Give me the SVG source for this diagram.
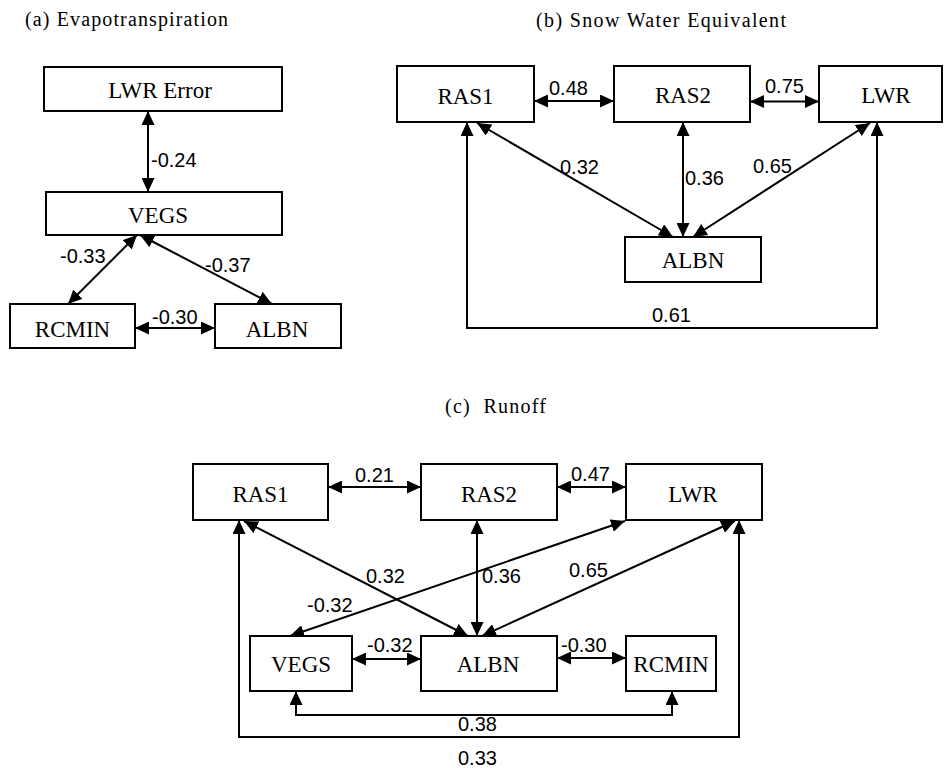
<svg xmlns="http://www.w3.org/2000/svg" width="944" height="768" viewBox="0 0 944 768">
<style>
.box{fill:#fff;stroke:#000;stroke-width:2}
.nl{font-family:"Liberation Serif","Times New Roman",serif;font-size:23px;text-anchor:middle;fill:#000}
.tt{font-family:"Liberation Serif","Times New Roman",serif;font-size:20px;fill:#000}
.el{font-family:"Liberation Sans",Arial,sans-serif;font-size:20px;fill:#000}
.c{fill:none;stroke:#000;stroke-width:2;marker-start:url(#ah);marker-end:url(#ah)}
</style>
<defs>
<marker id="ah" viewBox="0 0 14 13" refX="14" refY="6.5" markerWidth="14" markerHeight="13" markerUnits="userSpaceOnUse" orient="auto-start-reverse">
<path d="M0,0 L14,6.5 L0,13 Z" fill="#000"/>
</marker>
</defs>
<rect width="944" height="768" fill="#fff"/>
<g id="titles">
<text class="tt" x="25" y="26" textLength="203" lengthAdjust="spacing">(a) Evapotranspiration</text>
<text class="tt" x="536" y="27" textLength="250" lengthAdjust="spacing">(b) Snow Water Equivalent</text>
<text class="tt" x="445" y="413" textLength="101" lengthAdjust="spacing" xml:space="preserve">(c)  Runoff</text>
</g>
<g id="connectors">
<line class="c" x1="148" y1="111" x2="148" y2="192"/>
<line class="c" x1="137" y1="235" x2="68" y2="304"/>
<line class="c" x1="140" y1="235" x2="272" y2="304"/>
<line class="c" x1="135" y1="328" x2="215" y2="328"/>
<line class="c" x1="534" y1="101" x2="614" y2="101"/>
<line class="c" x1="750" y1="101.5" x2="819" y2="101.5"/>
<line class="c" x1="683" y1="122" x2="683" y2="237"/>
<line class="c" x1="477" y1="123" x2="673" y2="237"/>
<line class="c" x1="870" y1="123" x2="693" y2="237"/>
<polyline class="c" points="467,122 467,328 877,328 877,122"/>
<line class="c" x1="328" y1="487" x2="421" y2="487"/>
<line class="c" x1="557" y1="487" x2="626" y2="487"/>
<line class="c" x1="477" y1="520" x2="477" y2="636"/>
<line class="c" x1="244" y1="521" x2="468" y2="636"/>
<line class="c" x1="735" y1="521" x2="482" y2="636"/>
<line class="c" x1="625" y1="521" x2="290" y2="636"/>
<line class="c" x1="352" y1="659" x2="421" y2="659"/>
<line class="c" x1="557" y1="658" x2="626" y2="658"/>
<polyline class="c" points="296,691 296,715 672,715 672,691"/>
<polyline class="c" points="239,520 239,737 739,737 739,520"/>
</g>
<g id="edge-labels">
<text class="el" x="151" y="167">-0.24</text>
<text class="el" x="60" y="263">-0.33</text>
<text class="el" x="205" y="272">-0.37</text>
<text class="el" x="152" y="324">-0.30</text>
<text class="el" x="549" y="95">0.48</text>
<text class="el" x="765" y="93">0.75</text>
<text class="el" x="560" y="174">0.32</text>
<text class="el" x="685" y="185">0.36</text>
<text class="el" x="753" y="173">0.65</text>
<text class="el" x="652" y="322">0.61</text>
<text class="el" x="355" y="482">0.21</text>
<text class="el" x="571" y="481">0.47</text>
<text class="el" x="366" y="583">0.32</text>
<text class="el" x="482" y="583">0.36</text>
<text class="el" x="569" y="577">0.65</text>
<text class="el" x="307" y="612">-0.32</text>
<text class="el" x="367" y="652">-0.32</text>
<text class="el" x="561" y="652">-0.30</text>
<text class="el" x="458" y="731">0.38</text>
<text class="el" x="458" y="765">0.33</text>
</g>
<g id="a-lwr-error"><rect class="box" x="44" y="67" width="238" height="44"/><text class="nl" x="160" y="98">LWR Error</text></g>
<g id="a-vegs"><rect class="box" x="46" y="192" width="236" height="43"/><text class="nl" x="158" y="223">VEGS</text></g>
<g id="a-rcmin"><rect class="box" x="10" y="304" width="125" height="44"/><text class="nl" x="72.5" y="337">RCMIN</text></g>
<g id="a-albn"><rect class="box" x="215" y="304" width="126" height="44"/><text class="nl" x="277" y="337">ALBN</text></g>
<g id="b-ras1"><rect class="box" x="397" y="66" width="137" height="56"/><text class="nl" x="465.5" y="104">RAS1</text></g>
<g id="b-ras2"><rect class="box" x="614" y="66" width="136" height="56"/><text class="nl" x="683" y="103">RAS2</text></g>
<g id="b-lwr"><rect class="box" x="819" y="66" width="123" height="56"/><text class="nl" x="886" y="103">LWR</text></g>
<g id="b-albn"><rect class="box" x="625" y="237" width="136" height="45"/><text class="nl" x="693" y="268">ALBN</text></g>
<g id="c-ras1"><rect class="box" x="193" y="464" width="135" height="56"/><text class="nl" x="260.5" y="502">RAS1</text></g>
<g id="c-ras2"><rect class="box" x="421" y="464" width="136" height="56"/><text class="nl" x="489" y="502">RAS2</text></g>
<g id="c-lwr"><rect class="box" x="626" y="464" width="136" height="56"/><text class="nl" x="693" y="502">LWR</text></g>
<g id="c-vegs"><rect class="box" x="250" y="636" width="102" height="55"/><text class="nl" x="301" y="672">VEGS</text></g>
<g id="c-albn"><rect class="box" x="421" y="636" width="136" height="55"/><text class="nl" x="488" y="672">ALBN</text></g>
<g id="c-rcmin"><rect class="box" x="626" y="636" width="90" height="55"/><text class="nl" x="671" y="672">RCMIN</text></g>
</svg>
